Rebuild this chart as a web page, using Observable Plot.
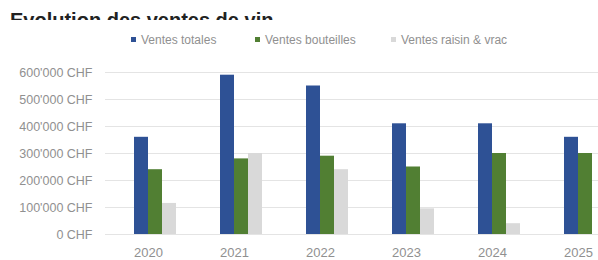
<!DOCTYPE html>
<html>
<head>
<meta charset="utf-8">
<script src="https://cdn.jsdelivr.net/npm/d3@7"></script>
<script src="https://cdn.jsdelivr.net/npm/@observablehq/plot@0.6"></script>
<style>
  html, body { margin: 0; padding: 0; background: #fff; overflow: hidden; }
  #wrap { position: relative; width: 598px; height: 260px; overflow: hidden; font-family: "Liberation Sans", Arial, sans-serif; }
  #title { position: absolute; left: 10px; top: 10px; font-size: 20px; line-height: 20px; font-weight: bold; color: #222; white-space: nowrap; }
  #chart { position: absolute; left: 0; top: 20px; width: 625px; height: 240px; background: #fff; }
  #legend { position: absolute; left: 0; top: 32px; width: 598px; height: 16px; font-size: 12px; color: #909090; }
  .item { position: absolute; top: 0; white-space: nowrap; line-height: 16px; }
  .sw { display: inline-block; width: 5px; height: 5px; margin-right: 5px; vertical-align: 2px; }
</style>
</head>
<body>
<div id="wrap">
  <div id="title">Evolution des ventes de vin</div>
  <div id="chart"></div>
  <div id="legend"></div>
</div>
<script>
const years = ["2020", "2021", "2022", "2023", "2024", "2025"];
const series = ["Ventes totales", "Ventes bouteilles", "Ventes raisin & vrac"];
const totales = [360000, 590000, 550000, 410000, 410000, 360000];
const bouteilles = [240000, 280000, 290000, 250000, 300000, 300000];
const raisinVrac = [115000, 300000, 240000, 95000, 40000, 0];
const yTicks = [0, 100000, 200000, 300000, 400000, 500000, 600000];
const colors = ["#2e5195", "#517f33", "#d9d9d9"];

const values = [totales, bouteilles, raisinVrac];
const data = [];
years.forEach((yr, i) => series.forEach((s, j) => data.push({year: yr, series: s, value: values[j][i]})));

const fmt = d => d3.format(",")(d).replace(/,/g, "'") + " CHF";

const plot = Plot.plot({
  width: 625,
  height: 240,
  marginTop: 52,
  marginBottom: 26,
  marginLeft: 105,
  marginRight: 4,
  style: {fontFamily: "'Liberation Sans', Arial, sans-serif", background: "transparent"},
  fx: {domain: years, paddingInner: 0, paddingOuter: 0, label: null, axis: null},
  x: {domain: series, axis: null, paddingInner: 0, paddingOuter: 1.5, align: 0.667},
  y: {domain: [0, 600000], label: null},
  color: {domain: series, range: colors},
  marks: [
    Plot.gridY(yTicks, {stroke: "#e4e4e4", strokeOpacity: 1}),
    Plot.axisY(yTicks, {tickSize: 0, tickPadding: 13, tickFormat: fmt, fill: "#909090", fontSize: 12.5, label: null}),
    Plot.axisFx({anchor: "bottom", tickSize: 0, tickPadding: 13, fill: "#909090", fontSize: 13, label: null}),
    Plot.barY(data, {fx: "year", x: "series", y: "value", fill: "series"})
  ]
});
document.getElementById("chart").appendChild(plot);

const legend = document.getElementById("legend");
const lefts = [131, 255, 391];
series.forEach((s, i) => {
  const it = document.createElement("div");
  it.className = "item";
  it.style.left = lefts[i] + "px";
  const sw = document.createElement("span");
  sw.className = "sw";
  sw.style.background = colors[i];
  it.appendChild(sw);
  it.appendChild(document.createTextNode(s));
  legend.appendChild(it);
});
</script>
</body>
</html>
